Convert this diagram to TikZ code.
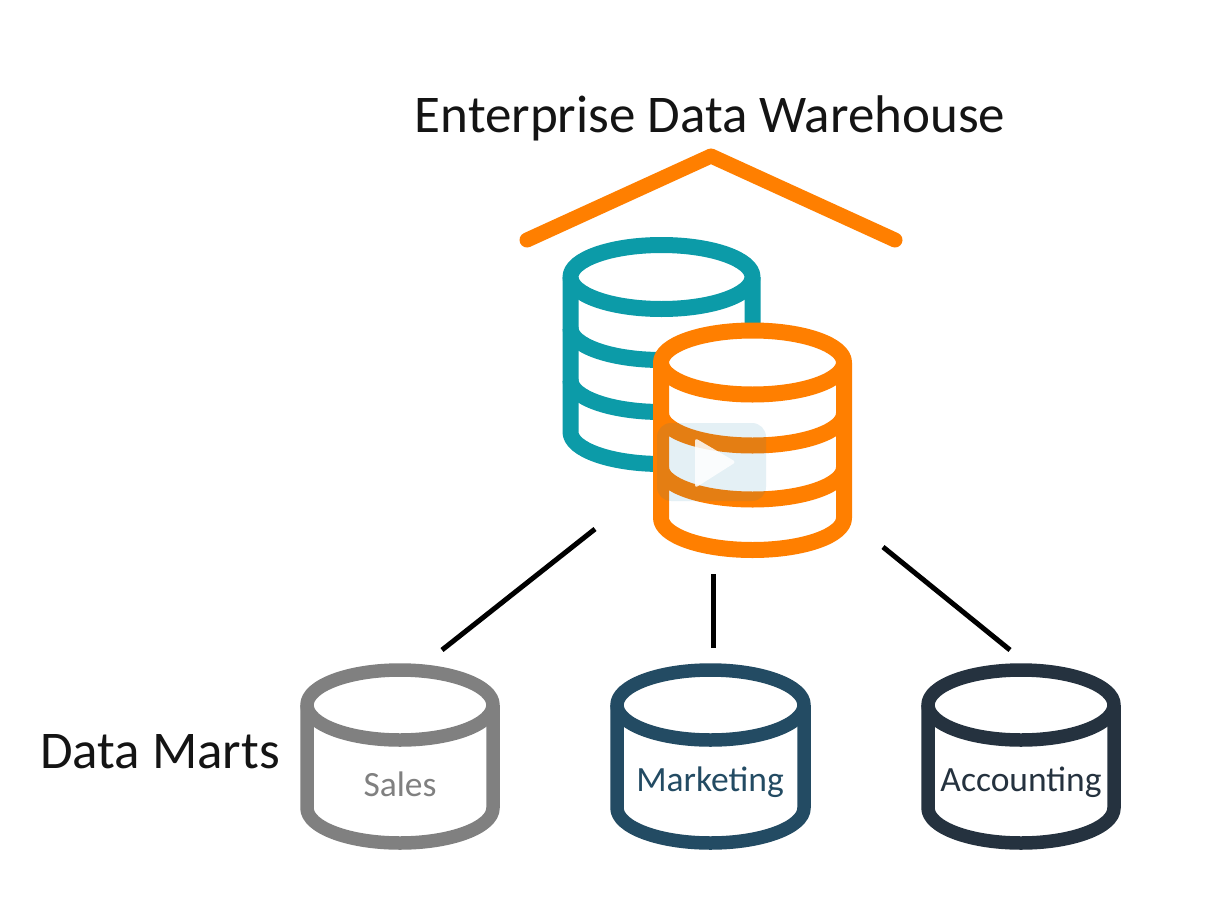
\documentclass[tikz,border=0pt]{standalone}
\usepackage{fontspec}
\setmainfont{Carlito}
\definecolor{teal1}{HTML}{0C9BA8}
\definecolor{orange1}{HTML}{FF7F00}
\definecolor{grey1}{HTML}{808080}
\definecolor{navy1}{HTML}{234B63}
\definecolor{ink1}{HTML}{25323F}
\definecolor{veil}{RGB}{18,125,175}
% #1 colour, #2 cx, #3 cy of top ellipse, #4 rx, #5 ry, #6 width, #7 y-offsets of lower bands, #8 y-offset of bottom arc
\newcommand{\dbcyl}[8]{%
  \fill[white] (#2-#4,#3) -- ++(0,#8) arc[start angle=180,end angle=360,x radius=#4,y radius=-#5] -- (#2+#4,#3) arc[start angle=0,end angle=180,x radius=#4,y radius=#5*-1] -- cycle;
  \draw[color=#1,line width=#6,line join=round] (#2,#3) ellipse[x radius=#4,y radius=#5];
  \draw[color=#1,line width=#6,line join=round] (#2-#4,#3) -- ++(0,#8) arc[start angle=180,end angle=360,x radius=#4,y radius=-#5] -- (#2+#4,#3);
  \foreach \bandoff in {#7} {
    \draw[color=#1,line width=#6] (#2-#4,#3+\bandoff) arc[start angle=180,end angle=360,x radius=#4,y radius=-#5];
  }
}
\tikzset{
  link/.style={draw=black,line width=5pt},
  title/.style={font=\fontsize{53}{62}\selectfont,text=black!92,inner sep=0pt},
  inlabel/.style={font=\fontsize{35.5}{42}\selectfont,inner sep=0pt}
}
\begin{document}
\begin{tikzpicture}[x=1pt,y=-1pt]
\useasboundingbox[fill=white] (0,0) rectangle (1214,923);
\node[title] (edw) at (710,118) {Enterprise Data Warehouse};
\node[title,anchor=west] (marts) at (40,752) {Data Marts};
% roof
\draw[color=orange1,line width=15pt,line cap=round,line join=round] (527,240) -- (711,156) -- (895,240);
% warehouse cylinders
\dbcyl{teal1}{661.5}{277}{91}{32}{16pt}{51,103}{155}
\dbcyl{orange1}{752.5}{362.5}{91.5}{32}{16pt}{51,105}{155.5}
% play overlay
\fill[veil,opacity=.114,rounded corners=14pt] (657,423) rectangle (766,501);
\fill[white,opacity=.85,rounded corners=3pt] (695,438) -- (736,462) -- (695,488) -- cycle;
% data marts
\dbcyl{grey1}{400}{705}{93}{35}{13.5pt}{}{103}
\dbcyl{navy1}{710.5}{705}{93.5}{35}{13.5pt}{}{103}
\dbcyl{ink1}{1021}{705}{93}{35}{13.5pt}{}{103}
\node[inlabel,text=grey1] (sales) at (400,784) {Sales};
\node[inlabel,text=navy1] (marketing) at (710,782) {Marketing};
\node[inlabel,text=ink1] (accounting) at (1021,782) {Accounting};
% connectors
\coordinate (a1) at (595,529); \coordinate (a2) at (442,650);
\coordinate (b1) at (713,574); \coordinate (b2) at (713,648);
\coordinate (c1) at (883,547); \coordinate (c2) at (1010,650);
\draw[link] (a1) -- (a2);
\draw[link] (b1) -- (b2);
\draw[link] (c1) -- (c2);
\end{tikzpicture}
\end{document}
